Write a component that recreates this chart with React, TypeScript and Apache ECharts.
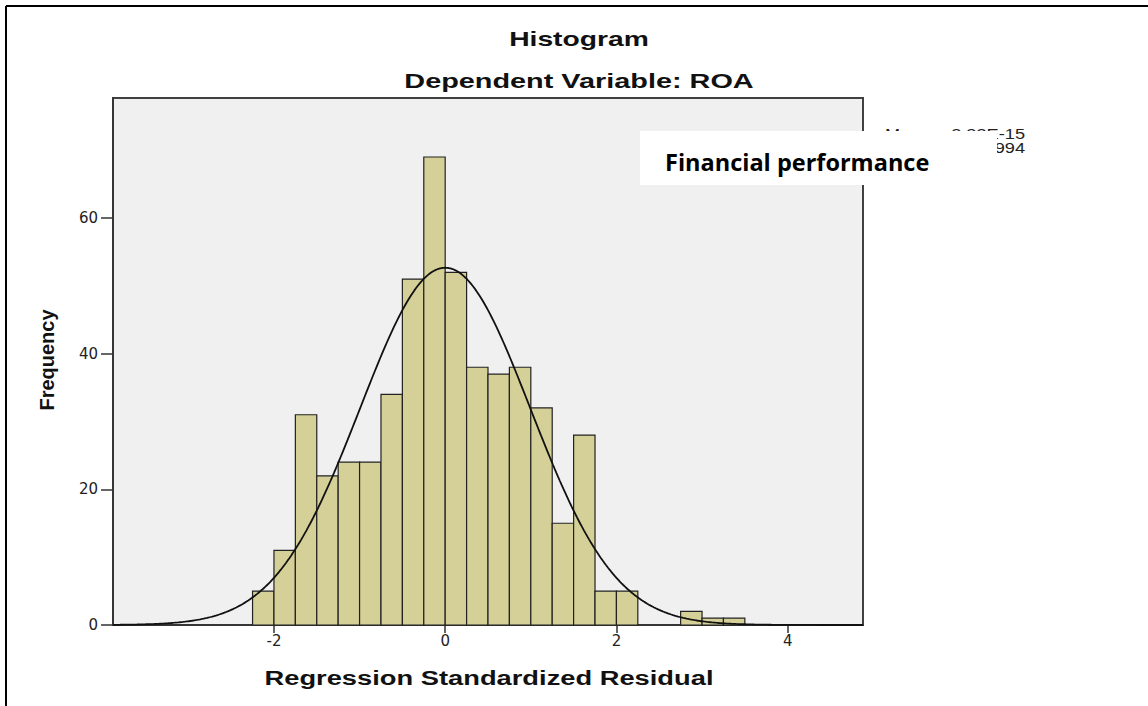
import React, { useEffect, useRef } from "react";
import * as echarts from "echarts";

// Histogram bins (lower edge) and their frequencies
const binStarts = [-2.25, -2.0, -1.75, -1.5, -1.25, -1.0, -0.75, -0.5, -0.25, 0, 0.25, 0.5, 0.75, 1.0, 1.25, 1.5, 1.75, 2.0, 2.75, 3.0, 3.25];
const frequencies = [5, 11, 31, 22, 24, 24, 34, 51, 69, 52, 38, 37, 38, 32, 15, 28, 5, 5, 2, 1, 1];
const BIN_WIDTH = 0.25;

const xTickValues = [-2, 0, 2, 4];
const yTickValues = [0, 20, 40, 60];

const X_MIN = -3.88;
const X_MAX = 4.88;
const Y_MAX = 77.7;

// fitted normal curve parameters
const MEAN = 0;
const STD_DEV = 0.994;
const N = frequencies.reduce((a, b) => a + b, 0);

const legendLines = ["Mean = 2.33E-15", "Std. Dev. = 0.994"];

function normalCurve(): number[][] {
  const pts: number[][] = [];
  const k = (N * BIN_WIDTH) / (STD_DEV * Math.sqrt(2 * Math.PI));
  for (let x = X_MIN; x <= X_MAX + 1e-9; x += 0.02) {
    const z = (x - MEAN) / STD_DEV;
    pts.push([x, k * Math.exp(-0.5 * z * z)]);
  }
  return pts;
}

export default function App() {
  const ref = useRef<HTMLDivElement>(null);
  useEffect(() => {
    if (!ref.current) return;
    const chart = echarts.init(ref.current, null, { renderer: "svg" });
    const barData = binStarts.map((s, i) => [s, s + BIN_WIDTH, frequencies[i]]);
    const axisFont = { fontFamily: "DejaVu Sans", fontSize: 15, color: "#222" };
    chart.setOption({
      animation: false,
      backgroundColor: "#ffffff",
      grid: {
        left: 113,
        right: 285,
        top: 98,
        bottom: 81,
        show: true,
        backgroundColor: "#F0F0F0",
        borderColor: "#404040",
        borderWidth: 2,
      },
      xAxis: {
        type: "value",
        min: X_MIN,
        max: X_MAX,
        splitLine: { show: false },
        axisLine: { show: true, onZero: false, lineStyle: { color: "#333", width: 1.5 } },
        axisTick: { show: true, customValues: xTickValues, length: 8, lineStyle: { color: "#333", width: 1.5 } },
        axisLabel: { show: true, customValues: xTickValues, margin: 8, ...axisFont },
      },
      yAxis: {
        type: "value",
        min: 0,
        max: Y_MAX,
        splitLine: { show: false },
        axisLine: { show: true, onZero: false, lineStyle: { color: "#333", width: 1.5 } },
        axisTick: { show: true, customValues: yTickValues, length: 12, lineStyle: { color: "#333", width: 1.5 } },
        axisLabel: { show: true, customValues: yTickValues, margin: 15, ...axisFont },
      },
      series: [
        {
          type: "custom",
          data: barData,
          encode: { x: [0, 1], y: 2 },
          renderItem: (params: any, api: any) => {
            const x0 = api.value(0);
            const x1 = api.value(1);
            const c = api.value(2);
            const p0 = api.coord([x0, c]);
            const p1 = api.coord([x1, 0]);
            return {
              type: "rect",
              shape: { x: p0[0], y: p0[1], width: p1[0] - p0[0], height: p1[1] - p0[1] },
              style: { fill: "#D4D098", stroke: "#222", lineWidth: 1.2 },
            };
          },
          z: 2,
        },
        {
          type: "line",
          data: normalCurve(),
          symbol: "none",
          lineStyle: { color: "#111", width: 1.8 },
          z: 3,
        },
      ],
      graphic: [
        { type: "line", shape: { x1: 6, y1: 6, x2: 1148, y2: 6 }, style: { stroke: "#000", lineWidth: 2 } },
        { type: "line", shape: { x1: 6, y1: 6, x2: 6, y2: 706 }, style: { stroke: "#000", lineWidth: 2 } },
        {
          type: "text", x: 579, y: 39, scaleX: 1.45,
          style: { text: "Histogram", fontFamily: "Liberation Sans", fontWeight: "bold", fontSize: 19.5, fill: "#111", textAlign: "center", textVerticalAlign: "middle" },
        },
        {
          type: "text", x: 579, y: 81, scaleX: 1.48,
          style: { text: "Dependent Variable: ROA", fontFamily: "Liberation Sans", fontWeight: "bold", fontSize: 19.5, fill: "#111", textAlign: "center", textVerticalAlign: "middle" },
        },
        {
          type: "text", x: 489, y: 678, scaleX: 1.4,
          style: { text: "Regression Standardized Residual", fontFamily: "Liberation Sans", fontWeight: "bold", fontSize: 19.5, fill: "#111", textAlign: "center", textVerticalAlign: "middle" },
        },
        {
          type: "text", x: 47, y: 360, rotation: Math.PI / 2,
          style: { text: "Frequency", fontFamily: "Liberation Sans", fontWeight: "bold", fontSize: 20, fill: "#111", textAlign: "center", textVerticalAlign: "middle" },
        },
        ...legendLines.map((t, i) => ({
          type: "text", x: 1025, y: 134 + i * 14, scaleX: 1.3, z: 50,
          style: { text: t, fontFamily: "Liberation Sans", fontSize: 14, fill: "#222", textAlign: "right", textVerticalAlign: "middle" },
        })),
        {
          type: "rect", z: 100, shape: { x: 640, y: 131, width: 357, height: 54 },
          style: { fill: "#ffffff" },
        },
        {
          type: "text", x: 665, y: 162, z: 101,
          style: { text: "Financial performance", fontFamily: "Open Sans", fontWeight: "bold", fontSize: 23.5, fill: "#000", textAlign: "left", textVerticalAlign: "middle" },
        },
      ],
    });
    return () => chart.dispose();
  }, []);
  return <div ref={ref} style={{ position: "absolute", left: 0, top: 0, width: 1148, height: 706 }} />;
}
